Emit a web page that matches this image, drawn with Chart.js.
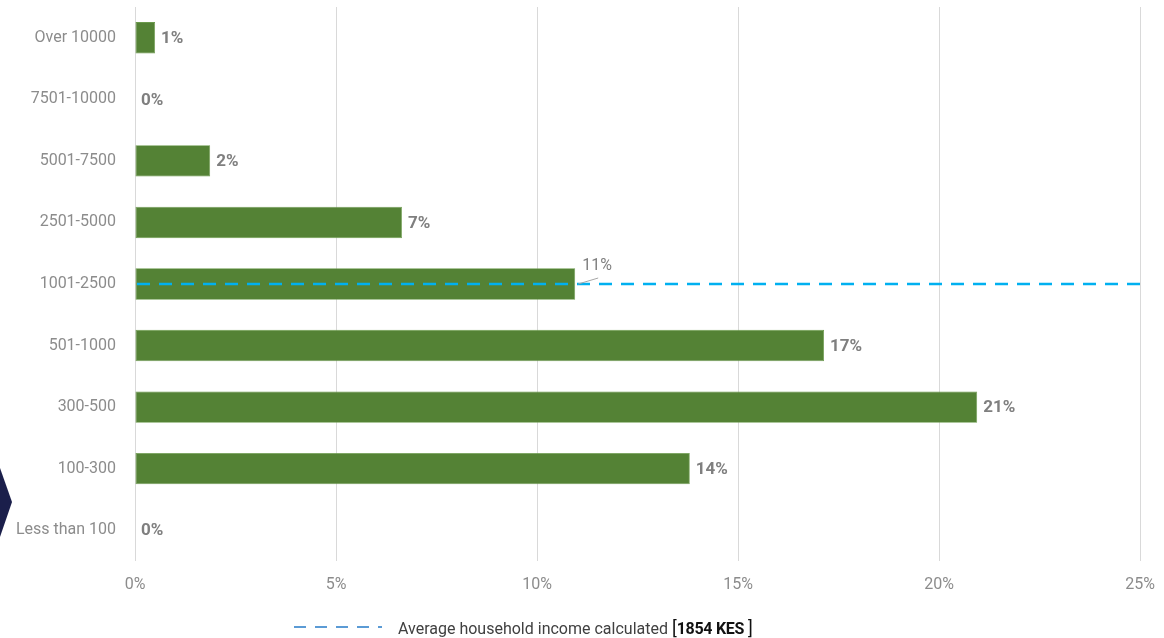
<!DOCTYPE html>
<html>
<head>
<meta charset="utf-8">
<script src="https://cdn.jsdelivr.net/npm/chart.js@4.4.1/dist/chart.umd.min.js"></script>
<style>
  html, body { margin: 0; padding: 0; background: #ffffff; }
  #wrap { position: relative; width: 1164px; height: 638px; overflow: hidden; }
  #c { position: absolute; left: 0; top: 0; }
  #legend { position: absolute; left: 294px; top: 616px; height: 22px; display: flex; align-items: center;
            font-family: Roboto, "Noto Sans", sans-serif; font-size: 16px; color: #404040; white-space: nowrap; }
  #legend svg { margin-right: 16px; }
  #legend b { color: #111111; font-weight: 700; letter-spacing: -0.3px; }
  #legend .br { color: #111111; font-weight: 400; font-size: 18px; }
</style>
</head>
<body>
<div id="wrap">
  <canvas id="c" width="1164" height="638"></canvas>
  <div id="legend">
    <svg width="88" height="4"><line x1="0" y1="2" x2="88" y2="2" stroke="#5b9bd5" stroke-width="2.2" stroke-dasharray="12,9"/></svg>
    <span>Average household income calculated&nbsp;<span class="br">[</span><b>1854 KES</b>&nbsp;<span class="br">]</span></span>
  </div>
</div>
<script>
const categories = ['Over 10000', '7501-10000', '5001-7500', '2501-5000', '1001-2500', '501-1000', '300-500', '100-300', 'Less than 100'];
const shares = [0.5, 0, 1.87, 6.64, 10.95, 17.14, 20.95, 13.8, 0];
const xTicks = [0, 5, 10, 15, 20, 25];
const avgCategory = '1001-2500';
const avgLabel = 'Average household income calculated [1854 KES]';

const barColor = '#548235';
const labelColor = '#7f7f7f';
const tickColor = '#8c8c8c';
const fontFamily = 'Roboto, "Noto Sans", sans-serif';

const chevronPlugin = {
  id: 'chevron',
  beforeDraw(chart) {
    const ctx = chart.ctx;
    ctx.save();
    ctx.fillStyle = '#1b1f4b';
    ctx.beginPath();
    ctx.moveTo(0, 468);
    ctx.lineTo(12, 502);
    ctx.lineTo(0, 537);
    ctx.closePath();
    ctx.fill();
    ctx.restore();
  }
};

const avgLinePlugin = {
  id: 'avgLine',
  afterDatasetsDraw(chart) {
    const ctx = chart.ctx;
    const y = chart.scales.y.getPixelForValue(categories.indexOf(avgCategory));
    const a = chart.chartArea;
    ctx.save();
    ctx.strokeStyle = '#00b0f0';
    ctx.lineWidth = 2.5;
    ctx.setLineDash([13, 9]);
    ctx.beginPath();
    ctx.moveTo(a.left + 2, y);
    ctx.lineTo(a.right + 5, y);
    ctx.stroke();
    ctx.restore();
  }
};

const labelPlugin = {
  id: 'barLabels',
  afterDatasetsDraw(chart) {
    const ctx = chart.ctx;
    const meta = chart.getDatasetMeta(0);
    ctx.save();
    ctx.textBaseline = 'middle';
    ctx.textAlign = 'left';
    meta.data.forEach((bar, i) => {
      const txt = Math.round(shares[i]) + '%';
      if (categories[i] === avgCategory) {
        ctx.strokeStyle = '#a6a6a6';
        ctx.lineWidth = 1;
        ctx.beginPath();
        ctx.moveTo(bar.x + 3, bar.y);
        ctx.lineTo(bar.x + 23, bar.y - 6);
        ctx.stroke();
        ctx.font = '16px ' + fontFamily;
        ctx.fillStyle = labelColor;
        ctx.fillText(txt, bar.x + 7, bar.y - 18);
      } else {
        ctx.font = 'bold 17px ' + fontFamily;
        ctx.fillStyle = labelColor;
        ctx.fillText(txt, bar.x + 6, bar.y + 1);
      }
    });
    ctx.restore();
  }
};

new Chart(document.getElementById('c'), {
  type: 'bar',
  data: {
    labels: categories,
    datasets: [{
      label: 'Share of households',
      data: shares,
      backgroundColor: barColor,
      borderColor: '#6b9a4c',
      borderWidth: 0.8,
      borderSkipped: false,
      barPercentage: 0.51,
      categoryPercentage: 1.0
    }]
  },
  options: {
    indexAxis: 'y',
    responsive: false,
    animation: false,
    devicePixelRatio: 1,
    layout: { padding: { top: 7, right: 24, bottom: 37, left: 0 } },
    plugins: {
      legend: { display: false },
      tooltip: { enabled: false }
    },
    scales: {
      x: {
        min: 0,
        max: 25,
        afterBuildTicks(scale) { scale.ticks = xTicks.map(v => ({ value: v })); },
        afterFit(scale) { scale.height = 40; scale.paddingLeft = 0; scale.paddingRight = 0; },
        grid: { color: '#d9d9d9', lineWidth: 1, drawTicks: false },
        border: { display: false },
        ticks: {
          padding: 14,
          color: tickColor,
          font: { family: fontFamily, size: 16 },
          callback: v => v + '%'
        }
      },
      y: {
        afterFit(scale) { scale.width = 135; scale.paddingTop = 0; scale.paddingBottom = 0; },
        grid: { display: false, drawTicks: false },
        border: { display: false },
        ticks: {
          padding: 19,
          color: tickColor,
          font: { family: fontFamily, size: 16 }
        }
      }
    }
  },
  plugins: [chevronPlugin, avgLinePlugin, labelPlugin]
});
</script>
</body>
</html>
